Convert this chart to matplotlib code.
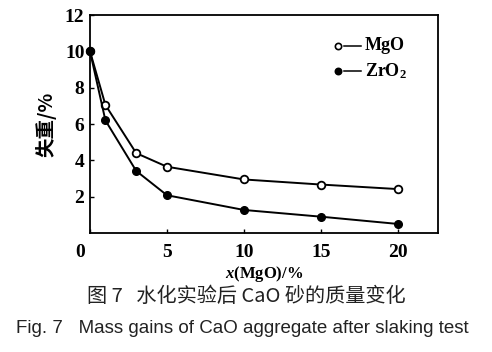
import matplotlib.pyplot as plt
import matplotlib.transforms as mtrans

plt.rcParams['font.family'] = ['Liberation Serif', 'Noto Sans CJK SC', 'DejaVu Sans']
plt.rcParams['mathtext.fontset'] = 'custom'
plt.rcParams['mathtext.it'] = 'Liberation Serif:italic:bold'
plt.rcParams['mathtext.bf'] = 'Liberation Serif:bold'
plt.rcParams['mathtext.rm'] = 'Liberation Serif:bold'

x = [0, 1, 3, 5, 10, 15, 20]
mgo = [10.0, 7.05, 4.4, 3.65, 2.95, 2.67, 2.42]
zro2 = [10.0, 6.2, 3.42, 2.08, 1.27, 0.9, 0.5]
xticks = [0, 5, 10, 15, 20]
yticks = [2, 4, 6, 8, 10, 12]

fig = plt.figure(figsize=(4.92, 3.52), dpi=100)
ax = fig.add_axes([0.183, 0.338, 0.707, 0.619])

ax.plot(x, mgo, color='black', lw=1.4, marker='o', ms=5.5, mfc='white',
        mec='black', mew=1.3, clip_on=False, zorder=3)
ax.plot(x, zro2, color='black', lw=1.4, marker='o', ms=5.5, mfc='black',
        mec='black', clip_on=False, zorder=3)

ax.set_xlim(0, 22.6)
ax.set_ylim(0, 12)
ax.set_xticks(xticks)
ax.set_yticks(yticks)
ax.set_xticklabels([str(v) for v in xticks], fontsize=14, fontweight='bold')
ax.set_yticklabels([str(v) for v in yticks], fontsize=14, fontweight='bold')
ax.tick_params(direction='in', length=3, width=1)
ax.tick_params(axis='x', pad=8)
ax.tick_params(axis='y', pad=4)
# shift the "0" label a little to the left as in the print
lab0 = ax.get_xticklabels()[0]
lab0.set_transform(lab0.get_transform() + mtrans.ScaledTranslation(-10 / 100, 0, fig.dpi_scale_trans))
for s in ax.spines.values():
    s.set_linewidth(1.3)

ax.set_ylabel('失重/%', fontsize=14, fontweight='bold',
              family=['Noto Sans CJK SC', 'DejaVu Sans'], labelpad=6)
ax.set_xlabel(r'$x$' + '(MgO)/%', fontsize=12, fontweight='bold', labelpad=2)

# legend drawn by hand: marker, dash, label
for yy, fc, name in [(0.86, 'white', 'MgO'), (0.745, 'black', r'ZrO$_\mathbf{2}$')]:
    ax.plot([0.714], [yy], transform=ax.transAxes, marker='o', ms=4.5,
            mfc=fc, mec='black', mew=1.2, color='black', clip_on=False)
    ax.plot([0.73, 0.78], [yy, yy], transform=ax.transAxes, color='black', lw=1.1)
    ax.text(0.79, yy, name, transform=ax.transAxes, fontsize=13,
            fontweight='bold', va='center', ha='left')

fig.text(0.5, 0.158, '图 7   水化实验后 CaO 砂的质量变化', ha='center', va='center',
         fontsize=14.5, family=['Noto Sans CJK SC', 'DejaVu Sans'], color='#222222')
fig.text(0.492, 0.068, 'Fig. 7   Mass gains of CaO aggregate after slaking test',
         ha='center', va='center', fontsize=13.5, family='Liberation Sans', color='#222222')

fig.savefig('out.png', dpi=100)
